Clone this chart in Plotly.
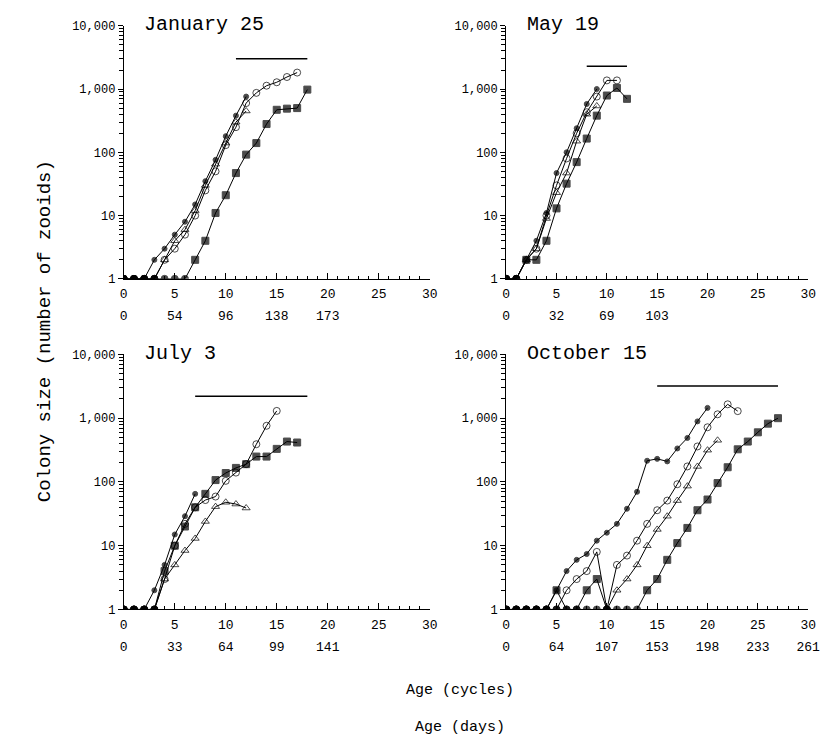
import plotly.graph_objects as go

# ---------------- data (value per cycle, starting at cycle 0) ----------------
titles = ["January 25", "May 19", "July 3", "October 15"]

jan_dot = [1, 1, 1, 2, 3, 5, 8, 15, 35, 76, 180, 380, 760]
jan_circle = [1, 1, 1, 1, 2, 3, 5, 10, 25, 50, 130, 250, 600, 870, 1130, 1280, 1550, 1820]
jan_triangle = [1, 1, 1, 1, 2, 4, 6, 12, 30, 65, 140, 300, 450]
jan_square = [1, 1, 1, 1, 1, 1, 1, 2, 4, 11, 21, 47, 92, 140, 280, 470, 490, 500, 980]

may_dot = [1, 1, 2, 4, 11, 47, 100, 240, 580, 1000]
may_circle = [1, 1, 2, 3, 10, 30, 80, 200, 430, 760, 1370, 1370]
may_triangle = [1, 1, 2, 3, 9, 23, 47, 150, 400, 540]
may_square = [1, 1, 2, 2, 4, 13, 32, 70, 165, 380, 790, 1040, 700]

jul_dot = [1, 1, 1, 2, 5, 15, 29, 65]
jul_circle = [1, 1, 1, 1, 3, 10, 22, 40, 52, 59, 104, 140, 190, 390, 760, 1300]
jul_triangle = [1, 1, 1, 1, 3, 5, 8.4, 13, 24, 41, 48, 45, 39]
jul_square = [1, 1, 1, 1, 4, 10, 20, 40, 65, 107, 138, 166, 190, 250, 250, 330, 430, 415]

oct_dot = [1, 1, 1, 1, 1, 2, 4, 6, 7.4, 12, 16, 22, 38, 70, 215, 230, 210, 335, 490, 890, 1450]
oct_circle = [1, 1, 1, 1, 1, 1, 2, 3, 4, 8, 1, 5, 7, 12, 22, 36, 51, 92, 175, 360, 720, 1150, 1650, 1290]
oct_triangle = [1, 1, 1, 1, 1, 1, 1, 1, 1, 1, 1, 2, 3, 5, 10, 18, 29, 51, 86, 175, 315, 450]
oct_square = [1, 1, 1, 1, 1, 2, 1, 1, 2, 3, 1, 1, 1, 1, 2, 3, 6, 11, 19, 36, 53, 96, 170, 325, 430, 600, 820, 1000]

# horizontal bars (start cycle, end cycle, level)
bar_start = [11, 8, 7, 15]
bar_end = [18, 12, 18, 27]
bar_level = [3000, 2300, 2200, 3200]

# second tick row: age in days at given cycles
days_cycles = [[0, 5, 10, 15, 20], [0, 5, 10, 15], [0, 5, 10, 15, 20], [0, 5, 10, 15, 20, 25, 30]]
days_labels = [["0", "54", "96", "138", "173"],
               ["0", "32", "69", "103"],
               ["0", "33", "64", "99", "141"],
               ["0", "64", "107", "153", "198", "233", "261"]]

y_tickvals = [1, 10, 100, 1000, 10000]
y_ticktext = ["1", "10", "100", "1,000", "10,000"]

panels = [
    [jan_dot, jan_circle, jan_triangle, jan_square],
    [may_dot, may_circle, may_triangle, may_square],
    [jul_dot, jul_circle, jul_triangle, jul_square],
    [oct_dot, oct_circle, oct_triangle, oct_square],
]

# ---------------- styling ----------------
OFF = 8                      # default page margin around the plot div
W, H = 838 - 2 * OFF, 753 - 2 * OFF
FONT = "Liberation Mono"


def px(x):
    return (x - OFF) / W


def py(y):
    return 1 - (y - OFF) / H


series_style = [
    dict(symbol="circle", size=5),
    dict(symbol="circle-open", size=7),
    dict(symbol="triangle-up-open", size=7),
    dict(symbol="square", size=7),
]

# panel pixel boxes on screen: (x0, x1, ytop, ybottom)
boxes = [(122, 434, 20, 278), (512, 820, 20, 278), (122, 434, 355, 615), (512, 820, 355, 615)]

fig = go.Figure()

minor_vals = [m * 10 ** d for d in range(4) for m in range(2, 10)]

for i, (series, box) in enumerate(zip(panels, boxes)):
    n = i + 1
    xa = "x" if n == 1 else f"x{n}"
    ya = "y" if n == 1 else f"y{n}"
    for vals, st in zip(series, series_style):
        xs = list(range(len(vals)))
        symbols = ["circle" if v == 1 else st["symbol"] for v in vals]
        sizes = [7 if v == 1 else st["size"] for v in vals]
        fig.add_trace(go.Scatter(
            x=xs, y=vals, mode="lines+markers", xaxis=xa, yaxis=ya,
            line=dict(color="black", width=1),
            marker=dict(symbol=symbols, size=sizes, color="black",
                        line=dict(color="black", width=1)),
            showlegend=False, hoverinfo="skip"))
    fig.add_trace(go.Scatter(
        x=[bar_start[i], bar_end[i]], y=[bar_level[i], bar_level[i]],
        mode="lines", xaxis=xa, yaxis=ya, line=dict(color="black", width=1.5),
        showlegend=False, hoverinfo="skip"))
    # dummy trace for the "days" axis
    fig.add_trace(go.Scatter(x=[None], y=[None], xaxis=f"x{n + 4}", yaxis=ya,
                             showlegend=False, hoverinfo="skip"))

    x0, x1, yt, yb = box
    axkey = "xaxis" if n == 1 else f"xaxis{n}"
    aykey = "yaxis" if n == 1 else f"yaxis{n}"
    fig.layout[axkey] = dict(
        domain=[px(x0), px(x1)], range=[0, 30], anchor=ya, tick0=0, dtick=5,
        ticks="inside", ticklen=6, tickcolor="black", showline=True,
        linecolor="black", linewidth=1, showgrid=False, zeroline=False,
        minor=dict(dtick=1, ticks="inside", ticklen=3, tickcolor="black", showgrid=False),
        tickfont=dict(family=FONT, size=13, color="black"), ticklabelstandoff=3)
    fig.layout[aykey] = dict(
        domain=[py(yb), py(yt)], type="log", range=[0, 4], anchor=xa,
        tickmode="array", tickvals=y_tickvals, ticktext=y_ticktext,
        ticks="outside", ticklen=5, tickcolor="black", showline=True,
        linecolor="black", linewidth=1, showgrid=False, zeroline=False,
        minor=dict(tickmode="array", tickvals=minor_vals, ticks="outside",
                   ticklen=4, tickcolor="black", showgrid=False),
        tickfont=dict(family=FONT, size=12, color="black"))
    fig.layout[f"xaxis{n + 4}"] = dict(
        overlaying=xa, anchor="free", position=py(yb + 28), range=[0, 30],
        tickmode="array", tickvals=days_cycles[i], ticktext=days_labels[i],
        ticks="", showline=False, showgrid=False, zeroline=False, side="bottom",
        tickfont=dict(family=FONT, size=13, color="black"))
    # panel title
    fig.add_annotation(text=titles[i], xref="paper", yref="paper",
                       x=px(x0 + 19), y=py(yt - 1), xanchor="left", yanchor="middle",
                       showarrow=False, font=dict(family=FONT, size=20, color="black"))

fig.add_annotation(text="Colony size (number of zooids)", xref="paper", yref="paper",
                   x=px(42), y=py(331), textangle=-90, xanchor="center", yanchor="middle",
                   showarrow=False, font=dict(family=FONT, size=19, color="black"))
fig.add_annotation(text="Age (cycles)", xref="paper", yref="paper",
                   x=px(465), y=py(698), xanchor="center", yanchor="middle", showarrow=False,
                   font=dict(family=FONT, size=15, color="black"))
fig.add_annotation(text="Age (days)", xref="paper", yref="paper",
                   x=px(465), y=py(735), xanchor="center", yanchor="middle", showarrow=False,
                   font=dict(family=FONT, size=15, color="black"))

fig.update_layout(width=W, height=H, margin=dict(l=0, r=0, t=0, b=0),
                  paper_bgcolor="white", plot_bgcolor="white")

fig.write_html("out.html", config={"displayModeBar": False})
